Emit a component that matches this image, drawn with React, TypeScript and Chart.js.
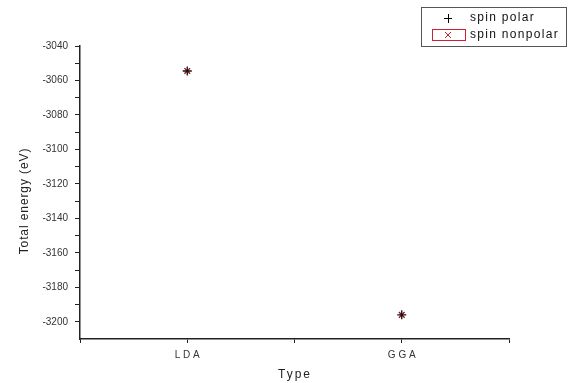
import React, { useEffect, useRef } from "react";
import { Chart, registerables } from "chart.js";

Chart.register(...registerables);

const categories = ["LDA", "GGA"];
const categoryPositions = [1, 3];
const spinPolar = [-3054.5, -3196];
const spinNonpolar = [-3054.5, -3196];
const yMin = -3210;
const yMax = -3040;
const yTitle = "Total energy (eV)";
const xTitle = "Type";

const FONT = "'Liberation Sans', Arial, sans-serif";

const legendPlugin = {
  id: "customLegend",
  afterDraw(chart: any) {
    const ctx = chart.ctx;
    ctx.save();
    ctx.strokeStyle = "#555";
    ctx.lineWidth = 1;
    ctx.strokeRect(421.5, 7.5, 145, 39);
    // entry 1: plus
    ctx.strokeStyle = "#000";
    ctx.beginPath();
    ctx.moveTo(444, 18.5);
    ctx.lineTo(452, 18.5);
    ctx.moveTo(448.5, 14);
    ctx.lineTo(448.5, 23);
    ctx.stroke();
    // entry 2: red box with x
    ctx.strokeStyle = "#d02030";
    ctx.strokeRect(432.5, 29.5, 33, 11);
    ctx.strokeStyle = "#c02030";
    ctx.beginPath();
    ctx.moveTo(445, 32);
    ctx.lineTo(451, 38);
    ctx.moveTo(451, 32);
    ctx.lineTo(445, 38);
    ctx.stroke();
    ctx.fillStyle = "#111";
    ctx.font = `12px ${FONT}`;
    (ctx as any).letterSpacing = "1.3px";
    ctx.textBaseline = "middle";
    ctx.textAlign = "left";
    ctx.fillText("spin polar", 470, 18);
    ctx.fillText("spin nonpolar", 470, 35);
    // y title
    (ctx as any).letterSpacing = "0.9px";
    ctx.fillStyle = "#222";
    ctx.translate(25, 201);
    ctx.rotate(-Math.PI / 2);
    ctx.textAlign = "center";
    ctx.fillText(yTitle, 0, 0);
    ctx.restore();
    // x title
    ctx.save();
    ctx.font = `12px ${FONT}`;
    (ctx as any).letterSpacing = "2px";
    ctx.fillStyle = "#222";
    ctx.textAlign = "center";
    ctx.textBaseline = "middle";
    ctx.fillText(xTitle, 295, 375);
    ctx.restore();
  },
};

export default function App() {
  const ref = useRef<HTMLCanvasElement | null>(null);
  useEffect(() => {
    document.body.style.margin = "0";
    const canvas = ref.current!;
    const chart = new Chart(canvas, {
      type: "scatter",
      data: {
        datasets: [
          {
            label: "spin polar",
            data: categoryPositions.map((x, i) => ({ x, y: spinPolar[i] })),
            pointStyle: "cross",
            pointRadius: 4.5,
            borderColor: "#1a0a0a",
            backgroundColor: "#1a0a0a",
            pointBorderWidth: 1.3,
          },
          {
            label: "spin nonpolar",
            data: categoryPositions.map((x, i) => ({ x, y: spinNonpolar[i] })),
            pointStyle: "crossRot",
            pointRadius: 4,
            borderColor: "#8a1020",
            backgroundColor: "#8a1020",
            pointBorderWidth: 1.3,
          },
        ],
      },
      options: {
        responsive: false,
        animation: false,
        layout: { padding: { left: 0, top: 46, right: 61, bottom: 0 } },
        plugins: {
          legend: { display: false },
          tooltip: { enabled: false },
        },
        scales: {
          x: {
            type: "linear",
            min: 0,
            max: 4,
            afterFit(scale: any) {
              scale.height = 44;
            },
            afterBuildTicks(scale: any) {
              scale.ticks = [0, 1, 2, 3, 4].map((v) => ({ value: v }));
            },
            border: { display: true, color: "#222", width: 1.5 },
            grid: {
              drawOnChartArea: false,
              drawTicks: true,
              tickLength: 4,
              color: "#222",
            },
            ticks: {
              padding: 6,
              color: "#333",
              font: { family: FONT, size: 10 },
              callback: (v: any) => {
                const idx = categoryPositions.indexOf(Number(v));
                return idx >= 0 ? categories[idx].split("").join(" ") : "";
              },
              maxRotation: 0,
            },
          },
          y: {
            type: "linear",
            min: yMin,
            max: yMax,
            afterFit(scale: any) {
              scale.width = 80;
            },
            afterBuildTicks(scale: any) {
              const t = [];
              for (let v = -3200; v <= yMax; v += 10) t.push({ value: v });
              scale.ticks = t;
            },
            border: { display: true, color: "#222", width: 1.5 },
            grid: {
              drawOnChartArea: false,
              drawTicks: true,
              tickLength: 5,
              color: "#222",
            },
            ticks: {
              padding: 7,
              color: "#333",
              font: { family: FONT, size: 10 },
              callback: (v: any) => (Number(v) % 20 === 0 ? String(v) : ""),
            },
          },
        },
      },
      plugins: [legendPlugin],
    } as any);
    return () => chart.destroy();
  }, []);
  return (
    <div style={{ width: 570, height: 383, background: "#fff" }}>
      <canvas ref={ref} width={570} height={383} style={{ display: "block" }} />
    </div>
  );
}
